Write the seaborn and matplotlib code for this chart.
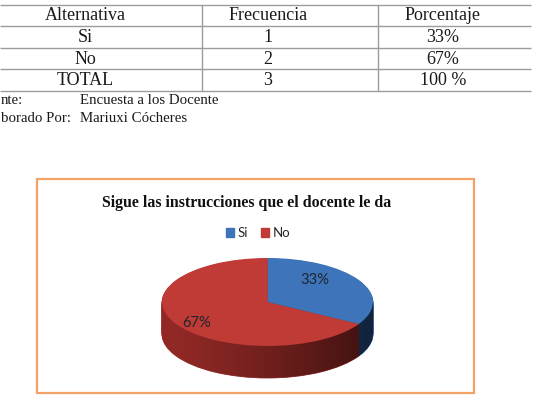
import numpy as np
import pandas as pd
import matplotlib
matplotlib.use("Agg")
import matplotlib.pyplot as plt
import seaborn as sns
from matplotlib.path import Path
from matplotlib.patches import PathPatch, Rectangle, Patch

# ---------------- data ----------------
col_headers = ["Alternativa", "Frecuencia", "Porcentaje"]
alternativas = ["Si", "No"]
frecuencias = [1, 2]
porcentajes = ["33%", "67%"]
total_label = "TOTAL"
total_freq = 3
total_pct = "100 %"
fuente_label = "nte:"          # left part is cut off in the scanned page
fuente = "Encuesta a los Docente"
elaborado_label = "borado Por:"
elaborado = "Mariuxi Cócheres"
titulo = "Sigue las instrucciones que el docente le da"

df = pd.DataFrame({"Alternativa": alternativas, "Frecuencia": frecuencias,
                   "Porcentaje": porcentajes})

sns.set_theme(style="white")
plt.rcParams['font.family'] = ['Liberation Serif', 'DejaVu Sans']

W, H = 533, 399
fig = plt.figure(figsize=(W / 100, H / 100), dpi=100)
fig.patch.set_facecolor('white')

# overlay axes in pixel coordinates
ov = fig.add_axes([0, 0, 1, 1])
ov.set_xlim(0, W)
ov.set_ylim(H, 0)
ov.axis('off')

# ---------------- table ----------------
row_y = [5, 26, 48, 69, 91]
col_x = [202, 378]
line_c = '#9c9c9c'
for y in row_y:
    ov.plot([0, 531], [y, y], color=line_c, lw=1.0, solid_capstyle='butt')
for x in col_x:
    ov.plot([x, x], [row_y[0], row_y[-1]], color=line_c, lw=1.0)
col_c = [85, 268, 443]
rows = [col_headers]
for _, r in df.iterrows():
    rows.append([r["Alternativa"], str(r["Frecuencia"]), r["Porcentaje"]])
rows.append([total_label, str(total_freq), total_pct])
for i, row in enumerate(rows):
    yc = (row_y[i] + row_y[i + 1]) / 2
    for xc, t in zip(col_c, row):
        ov.text(xc, yc + 0.5, t, ha='center', va='center', fontsize=13,
                color='#1a1a1a')

# source lines
ov.text(1, 101, fuente_label, ha='left', va='center', fontsize=10.7, color='#1a1a1a')
ov.text(80, 101, fuente, ha='left', va='center', fontsize=10.7, color='#1a1a1a')
ov.text(1, 118, elaborado_label, ha='left', va='center', fontsize=10.7, color='#1a1a1a')
ov.text(80, 118, elaborado, ha='left', va='center', fontsize=10.7, color='#1a1a1a')

# ---------------- chart box ----------------
ov.add_patch(Rectangle((37, 179), 474 - 37, 393 - 179, fill=False,
                       edgecolor='#F2A266', lw=1.6))
ov.text(247, 203, titulo, ha='center', va='center', fontsize=11.4,
        fontweight='bold', color='#111111')

# ---------------- 3D pie ----------------
colors_top = ['#3E74B9', '#C03A36']
colors_side = ['#2C568F', '#9A2B28']
ry_px = 44.0
depth_px = 32
ax_h_px = 123
pax = fig.add_axes([162 / W, 1 - 381 / H, 211 / W, ax_h_px / H])
unit = 1.0 / ry_px

for k in range(depth_px, 0, -1):
    pax.pie(df["Frecuencia"], colors=colors_side, startangle=90,
            counterclock=False, center=(0, -k * unit), radius=1,
            wedgeprops=dict(linewidth=0.6))
    for w, c in zip(pax.patches[-2:], colors_side):
        w.set_edgecolor(c)

wedges, _ = pax.pie(df["Frecuencia"], colors=colors_top, startangle=90,
                    counterclock=False, center=(0, 0), radius=1,
                    wedgeprops=dict(linewidth=0))

ylo = 1 - ax_h_px / ry_px
pax.set_aspect('auto')
pax.axis('off')

# shading of the side wall (darker towards the right)
d = depth_px * unit
xs = np.linspace(-1, 1, 200)
top_edge = -np.sqrt(np.clip(1 - xs ** 2, 0, None))
verts = np.concatenate([np.column_stack([xs, top_edge]),
                        np.column_stack([xs[::-1], top_edge[::-1] - d])])
clip = PathPatch(Path(verts), transform=pax.transData,
                 facecolor='none', edgecolor='none')
pax.add_patch(clip)
grad = np.zeros((2, 256, 4))
g = np.linspace(0, 1, 256)
grad[..., 3] = 0.05 + 0.55 * g ** 1.3
im = pax.imshow(grad, extent=(-1, 1, -1 - d - 0.05, 0.05), aspect='auto',
                zorder=3, interpolation='bilinear')
im.set_clip_path(clip)
pax.set_xlim(-1, 1)
pax.set_ylim(ylo, 1)

# labels overlay (on top of the pie)
top = fig.add_axes([0, 0, 1, 1])
top.set_xlim(0, W)
top.set_ylim(H, 0)
top.axis('off')
top.patch.set_alpha(0)
lab_font = ['Lato', 'DejaVu Sans']
top.text(315, 280, porcentajes[0], ha='center', va='center', fontsize=10.6,
         family=lab_font, color='#1e2530')
top.text(197, 323, porcentajes[1], ha='center', va='center', fontsize=10.6,
         family=lab_font, color='#1e2530')

# legend
handles = [Patch(facecolor=c, edgecolor=c) for c in colors_top]
leg = fig.legend(handles, list(df["Alternativa"]), loc='center',
                 bbox_to_anchor=(258 / W, 1 - 233 / H), ncol=2, frameon=False,
                 prop={'family': lab_font, 'size': 9.5},
                 handlelength=0.6, handleheight=0.6, handletextpad=0.25,
                 columnspacing=1.0, borderpad=0)

fig.savefig('out.png', dpi=100, facecolor='white')
